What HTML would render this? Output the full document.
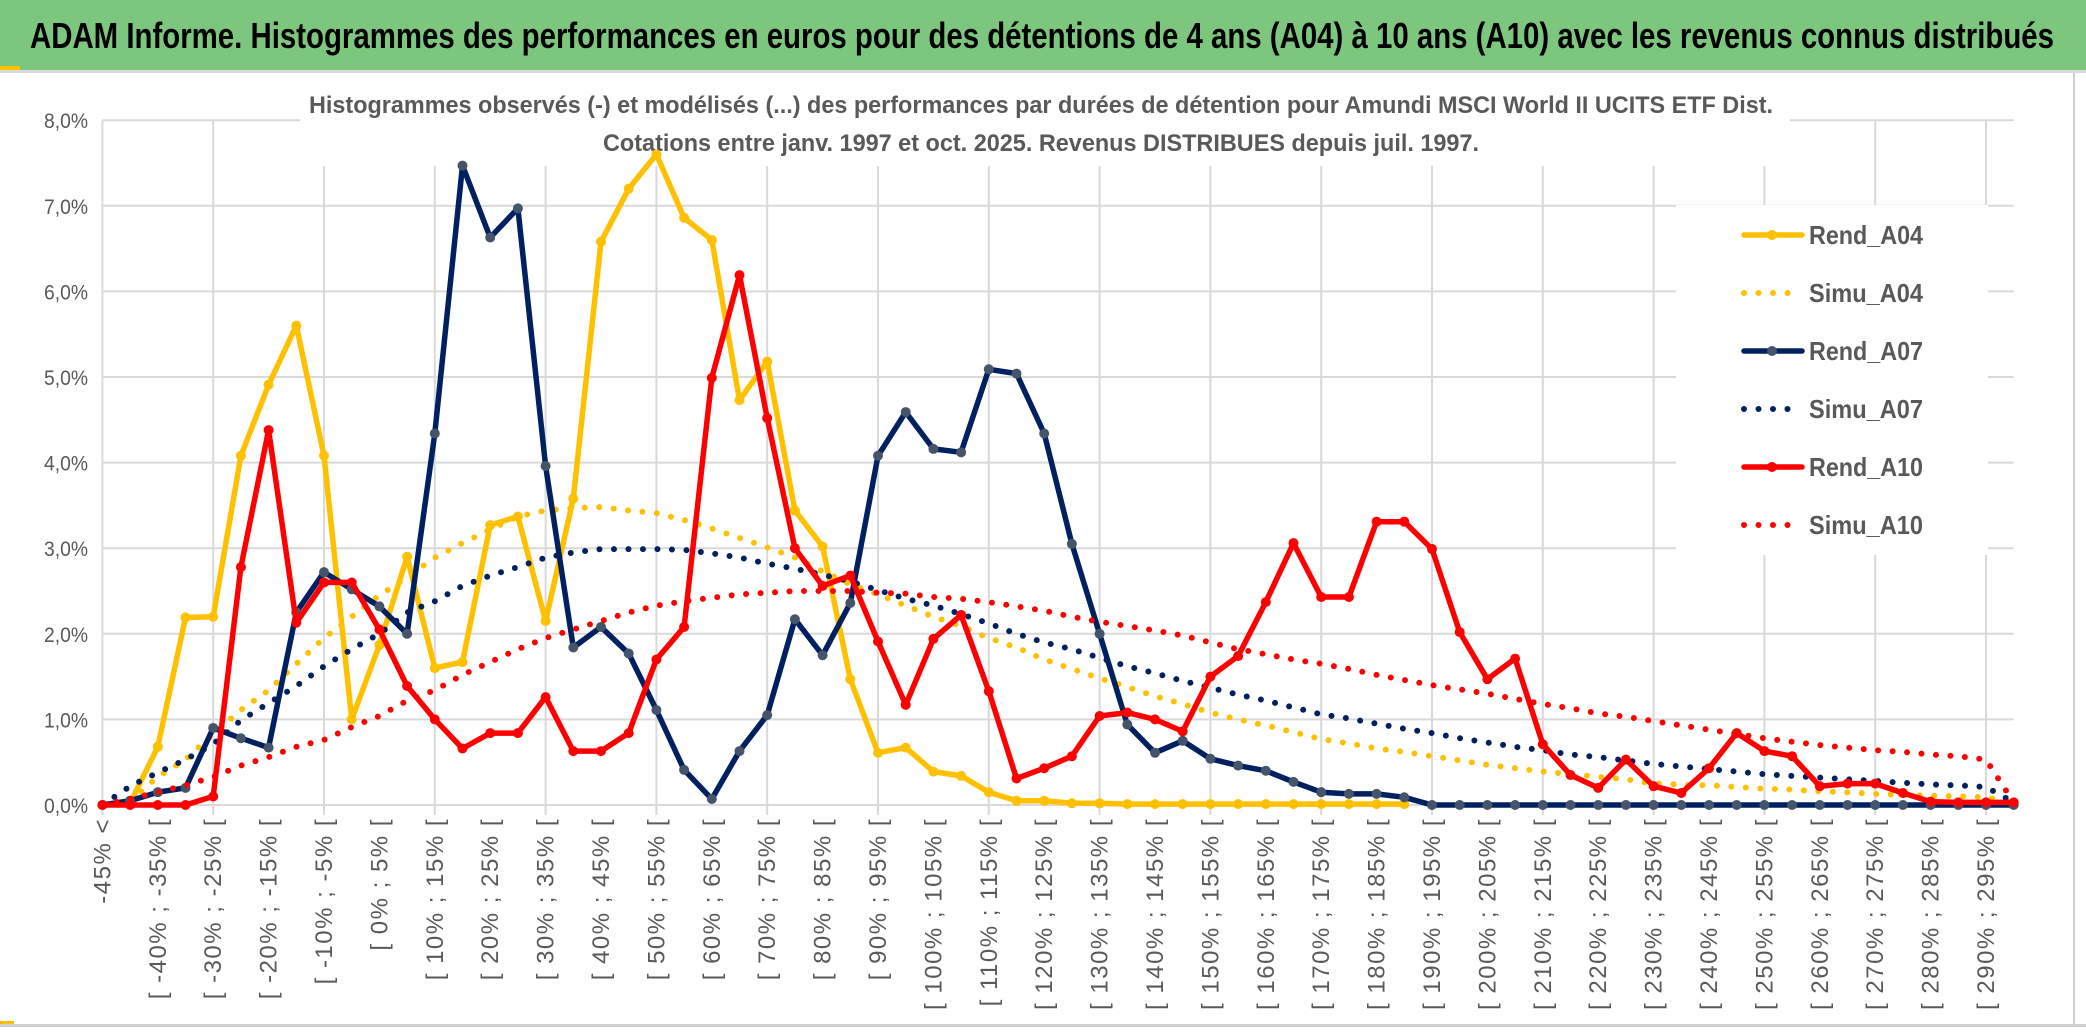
<!DOCTYPE html>
<html><head><meta charset="utf-8">
<style>
html,body{margin:0;padding:0;background:#fff;width:2086px;height:1033px;overflow:hidden}
svg{display:block}
text{font-family:"Liberation Sans",sans-serif}
</style></head>
<body>
<svg id="chart" width="2086" height="1033" viewBox="0 0 2086 1033" xmlns="http://www.w3.org/2000/svg">
  <rect x="0" y="0" width="2086" height="1033" fill="#fff"/>
  <rect x="0" y="0" width="2086" height="70" fill="#7DC67E"/>
  <rect x="0" y="66" width="20" height="4" fill="#FFC000"/>
  <rect x="0" y="70" width="2086" height="3" fill="#d9d9d9"/>
  <text x="30" y="48" font-size="36" font-weight="bold" fill="#000" textLength="2024" lengthAdjust="spacingAndGlyphs">ADAM Informe. Histogrammes des performances en euros pour des détentions de 4 ans (A04) à 10 ans (A10) avec les revenus connus distribués</text>
  <rect x="2073" y="73" width="2" height="953" fill="#d0d0d0"/>
  <rect x="0" y="1024" width="2086" height="3" fill="#d0d0d0"/>
  <rect x="0" y="1021" width="14" height="3" fill="#FFC000"/>
  <g id="grid"></g>
  <rect x="300" y="82" width="1490" height="84" fill="#fff"/>
  <text x="1041" y="113" font-size="24" font-weight="bold" fill="#595959" text-anchor="middle" textLength="1464" lengthAdjust="spacingAndGlyphs">Histogrammes observés (-) et modélisés (...) des performances par durées de détention pour Amundi MSCI World II UCITS ETF Dist.</text>
  <text x="1041" y="151" font-size="24" font-weight="bold" fill="#595959" text-anchor="middle" textLength="876" lengthAdjust="spacingAndGlyphs">Cotations entre janv. 1997 et oct. 2025. Revenus DISTRIBUES depuis juil. 1997.</text>
  <g id="axes"></g>
  <g id="series"></g>
  <g id="legend"></g>
</svg>
<script>
const rendA04=[0,0.02,0.68,2.19,2.2,4.08,4.91,5.6,4.08,1.0,1.87,2.9,1.6,1.67,3.27,3.37,2.15,3.58,6.58,7.2,7.6,6.86,6.6,4.73,5.18,3.44,3.02,1.47,0.61,0.67,0.39,0.34,0.15,0.05,0.05,0.02,0.02,0.01,0.01,0.01,0.01,0.01,0.01,0.01,0.01,0.01,0.01,0.01,null,null,null,null,null,null,null,null,null,null,null,null,null,null,null,null,null,null,null,null,null,null];
const simuA04=[null,0.05,0.33,0.53,0.83,1.11,1.34,1.65,1.95,2.2,2.45,2.66,2.89,3.06,3.22,3.37,3.44,3.47,3.48,3.44,3.41,3.33,3.23,3.12,3.01,2.89,2.73,2.58,2.46,2.33,2.2,2.09,1.95,1.84,1.7,1.59,1.48,1.38,1.27,1.18,1.08,1.0,0.93,0.85,0.77,0.72,0.66,0.62,0.57,0.52,0.47,0.43,0.39,0.36,0.33,0.3,0.25,0.24,0.23,0.21,0.19,0.18,0.16,0.15,0.13,0.12,0.11,0.1,0.09,0.03];
const rendA07=[0,0.05,0.15,0.2,0.9,0.78,0.67,2.25,2.72,2.52,2.32,2.0,4.34,7.47,6.63,6.97,3.96,1.84,2.08,1.77,1.11,0.41,0.07,0.63,1.05,2.17,1.75,2.36,4.08,4.59,4.16,4.12,5.09,5.04,4.34,3.05,2.0,0.94,0.61,0.75,0.54,0.46,0.4,0.27,0.15,0.13,0.13,0.09,0,0,0,0,0,0,0,0,0,0,0,0,0,0,0,0,0,0,0,0,0,0];
const simuA07=[0.0,0.22,0.38,0.53,0.71,0.99,1.19,1.39,1.62,1.82,2.0,2.25,2.38,2.56,2.68,2.78,2.89,2.95,2.99,2.99,2.99,2.98,2.94,2.89,2.82,2.76,2.69,2.61,2.51,2.41,2.33,2.23,2.12,2.0,1.9,1.82,1.72,1.62,1.54,1.45,1.37,1.29,1.22,1.14,1.06,1.01,0.95,0.89,0.84,0.78,0.73,0.68,0.64,0.59,0.56,0.52,0.48,0.45,0.42,0.39,0.36,0.34,0.32,0.3,0.28,0.26,0.24,0.23,0.21,0.03];
const rendA10=[0,0,0,0,0.1,2.78,4.38,2.13,2.6,2.6,2.05,1.39,1.0,0.66,0.84,0.84,1.26,0.63,0.63,0.84,1.7,2.08,4.99,6.19,4.52,3.0,2.56,2.68,1.91,1.17,1.94,2.22,1.33,0.31,0.43,0.57,1.04,1.08,1.0,0.86,1.5,1.74,2.37,3.06,2.43,2.43,3.31,3.31,2.99,2.02,1.47,1.71,0.71,0.35,0.2,0.53,0.22,0.14,0.43,0.84,0.63,0.57,0.22,0.25,0.25,0.14,0.04,0.03,0.03,0.03];
const simuA10=[0,0.07,0.15,0.23,0.33,0.46,0.56,0.68,0.76,0.91,1.04,1.22,1.34,1.52,1.67,1.82,1.95,2.05,2.15,2.25,2.33,2.38,2.42,2.46,2.48,2.5,2.5,2.5,2.48,2.47,2.43,2.41,2.37,2.32,2.27,2.2,2.14,2.09,2.04,1.98,1.9,1.82,1.76,1.7,1.65,1.59,1.52,1.46,1.4,1.35,1.3,1.24,1.18,1.13,1.07,1.03,0.98,0.93,0.88,0.83,0.78,0.74,0.7,0.67,0.64,0.62,0.59,0.57,0.53,0.03];
const yTicks=[0,1,2,3,4,5,6,7,8];
const yTickLabels=["0,0%","1,0%","2,0%","3,0%","4,0%","5,0%","6,0%","7,0%","8,0%"];
const categories=["-45% <"];
for(let i=1;i<70;i++){const a=-45+5*(i-1);categories.push("[ "+a+"% ; "+(a+5)+"% [");}
const legendNames=["Rend_A04","Simu_A04","Rend_A07","Simu_A07","Rend_A10","Simu_A10"];

const NS="http://www.w3.org/2000/svg";
const X0=102.4, STEP=27.7, Y0=805, YPER=85.6;
function xs(i){return X0+i*STEP;}
function ys(v){return Y0-v*YPER;}
function mk(tag,attrs,parent){const e=document.createElementNS(NS,tag);for(const k in attrs)e.setAttribute(k,attrs[k]);parent.appendChild(e);return e;}

const grid=document.getElementById('grid');
const axes=document.getElementById('axes');
const xEnd=xs(categories.length-1);
yTicks.forEach((t,k)=>{
  const l=mk('line',{x1:X0,x2:xEnd,y1:ys(t),y2:ys(t),stroke:'#d9d9d9','stroke-width':2},grid);
  
  
  const tx=mk('text',{x:88,y:ys(t)+8,'font-size':21,fill:'#595959','text-anchor':'end',textLength:44,lengthAdjust:'spacingAndGlyphs'},axes);
  
  
  tx.textContent=yTickLabels[k];
});
for(let i=0;i<categories.length;i+=4){
  const l=mk('line',{x1:xs(i),x2:xs(i),y1:ys(8),y2:Y0+10,stroke:'#d9d9d9','stroke-width':2},grid);
  
  
}
categories.forEach((c,i)=>{
  if(i%2!==0)return;
  const x=xs(i)+8, y=818;
  const tx=mk('text',{x:x,y:y,'font-size':24,'letter-spacing':1.5,fill:'#595959','text-anchor':'end',transform:'rotate(-90 '+x+' '+y+')'},axes);
  
  
  tx.textContent=c;
});

const seriesG=document.getElementById('series');
function pathFor(arr){let d='',pen=false;arr.forEach((v,i)=>{if(v===null){pen=false;return;}d+=(pen?'L':'M')+xs(i).toFixed(1)+' '+ys(v).toFixed(1)+' ';pen=true;});return d;}
function solid(arr,color,mcolor,name){
  const p=mk('path',{d:pathFor(arr),fill:'none',stroke:color,'stroke-width':5.5,'stroke-linejoin':'round','stroke-linecap':'round'},seriesG);
  
  
  arr.forEach((v,i)=>{if(v===null)return;
    const c=mk('circle',{cx:xs(i),cy:ys(v),r:5,fill:mcolor},seriesG);
    
    
  });
}
function dotted(arr,color,name){
  const p=mk('path',{d:pathFor(arr),fill:'none',stroke:color,'stroke-width':6,'stroke-linecap':'round','stroke-dasharray':'0 14.5'},seriesG);
  
  
}
solid(rendA04,'#FFC000','#FFC000','rend-a04');
dotted(simuA04,'#FFC000','simu-a04');
solid(rendA07,'#002060','#44546A','rend-a07');
dotted(simuA07,'#002060','simu-a07');
solid(rendA10,'#FF0000','#FF0000','rend-a10');
dotted(simuA10,'#FF0000','simu-a10');

const legend=document.getElementById('legend');
const lb=mk('rect',{x:1676,y:205,width:312,height:350,fill:'#fff'},legend);


const lColors=['#FFC000','#FFC000','#002060','#002060','#FF0000','#FF0000'];
const lMarker=['#FFC000',null,'#44546A',null,'#FF0000',null];
const lY=[235,293,351,409,467,525];
legendNames.forEach((n,k)=>{
  const y=lY[k];
  const g=mk('g',{},legend);
  
  
  if(lMarker[k]){
    mk('line',{x1:1744,x2:1802,y1:y,y2:y,stroke:lColors[k],'stroke-width':5.5,'stroke-linecap':'round'},g);
    mk('circle',{cx:1772,cy:y,r:5,fill:lMarker[k]},g);
  }else{
    mk('line',{x1:1744,x2:1802,y1:y,y2:y,stroke:lColors[k],'stroke-width':6,'stroke-linecap':'round','stroke-dasharray':'0 14.5'},g);
  }
  const t=mk('text',{x:1809,y:y+9,'font-size':26,'font-weight':'bold',fill:'#595959',textLength:114,lengthAdjust:'spacingAndGlyphs'},g);
  t.textContent=n;
});
</script>
</body></html>
